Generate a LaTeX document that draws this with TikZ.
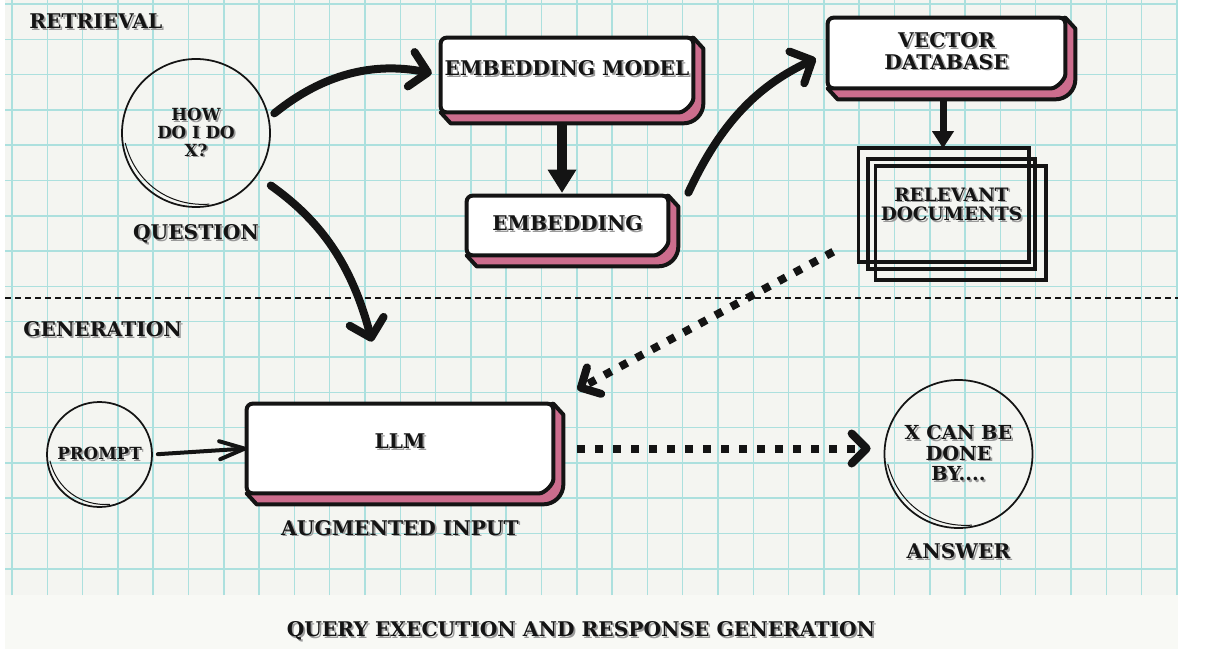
\documentclass[tikz,border=0pt]{standalone}
\usepackage{fontspec}
\setmainfont{DejaVu Serif}
\usetikzlibrary{arrows.meta,positioning}
\definecolor{paper}{HTML}{F4F5F1}
\definecolor{band}{HTML}{F8F9F5}
\definecolor{gridcol}{HTML}{ACE0DE}
\definecolor{ink}{HTML}{141414}
\definecolor{shade}{HTML}{9A9A9A}
\definecolor{rosa}{HTML}{CC6D8D}
\pgfdeclarelayer{paperlayer}
\pgfdeclarelayer{cardlayer}
\pgfsetlayers{paperlayer,cardlayer,main}
\newcommand{\shd}[1]{\leavevmode\rlap{\hspace{0.35mm}\raisebox{-0.35mm}{\color{shade}#1}}#1}
\newcommand{\card}[1]{%
  \begin{pgfonlayer}{cardlayer}
    \filldraw[rosa,draw=ink,line width=0.8mm,line join=round]
      (#1.north east) -- ([shift={(2mm,-2.2mm)}]#1.north east)
      -- ([shift={(2mm,1.8mm)}]#1.south east) arc[start angle=0,end angle=-90,radius=4mm]
      -- ([shift={(2mm,-2.2mm)}]#1.south west) -- (#1.south west) -- cycle;
    \filldraw[white,draw=ink,line width=0.8mm,rounded corners=1.2mm]
      (#1.south west) -- (#1.north west) -- (#1.north east)
      -- ([yshift=4mm]#1.south east) arc[start angle=0,end angle=-90,radius=4mm] -- cycle;
  \end{pgfonlayer}}

\begin{document}
\begin{tikzpicture}[x=0.2mm,y=-0.2mm,node distance=3mm]
  \tikzstyle{lbl}=[font=\fontsize{11.5}{12}\selectfont\bfseries,text=ink,inner sep=0pt]
  \tikzstyle{bubble}=[circle,draw=ink,line width=0.35mm,inner sep=0pt,align=center,text=ink,font=\fontsize{9.5}{10.2}\selectfont\bfseries]
  \tikzstyle{cardbox}=[rectangle,inner sep=0pt,align=center,text=ink,font=\fontsize{11.5}{12}\selectfont\bfseries]
  \tikzstyle{docline}=[ink,line width=0.7mm]
  \tikzstyle{sketch}=[ink,line width=0.2mm]
  \tikzstyle{fat}=[ink,line width=1.6mm,line cap=round,-{Straight Barb[length=3.4mm,width=7mm,round]}]
  \tikzstyle{slim}=[ink,line width=0.8mm,line cap=round,-{Straight Barb[length=5mm,width=3.6mm,round]}]
  \tikzstyle{dotarrow}=[ink,line width=1.6mm,dash pattern=on 1.6mm off 2mm,-{Straight Barb[length=3mm,width=6mm,round]}]
  \tikzstyle{drop}=[ink,line width=2mm,-{Triangle[length=4.6mm,width=5.8mm,line width=0pt]}]
  \tikzstyle{droplite}=[ink,line width=1.4mm,-{Triangle[length=3.4mm,width=4.4mm,line width=0pt]}]
  \useasboundingbox (0,0) rectangle (1209,649);
  \begin{pgfonlayer}{paperlayer}
    \fill[paper] (5,0) rectangle (1178,595);
    \fill[band] (5,595) rectangle (1178,649);
    \draw[gridcol,line width=0.3mm,shift={(12,4)}] (-7,-4) grid[step=7.06mm] (1166,591);
    \draw[ink,line width=0.5mm,dash pattern=on 1.2mm off 0.8mm] (5,298) -- (1178,298);
  \end{pgfonlayer}
  \node[lbl,anchor=west] (ret) at (29,22) {\shd{RETRIEVAL}};
  \node[lbl,anchor=west] (gen) at (23,330) {\shd{GENERATION}};
  \node[lbl] (title) at (581,632) {\shd{QUERY EXECUTION AND RESPONSE GENERATION}};
  \node[bubble,minimum size=29.6mm] (q) at (196,133) {\shd{HOW}\\\shd{DO I DO}\\\shd{X?}};
  \node[lbl,below=3.3mm of q] (qlbl) {\shd{QUESTION}};
  \node[cardbox,minimum width=50.4mm,minimum height=14.8mm,text depth=2.8mm] (em) at (567,75) {\shd{EMBEDDING MODEL}};
  \node[cardbox,minimum width=40.2mm,minimum height=11.8mm,text depth=1mm] (emb) at (567.5,225.5) {\shd{EMBEDDING}};
  \node[cardbox,minimum width=47.4mm,minimum height=14mm,text depth=0.8mm] (vdb) at (946.5,53) {\shd{VECTOR}\\\shd{DATABASE}};
  \node[cardbox,draw=ink,line width=0.7mm,minimum width=33.4mm,minimum height=22mm,text depth=4mm,font=\fontsize{10.5}{11}\selectfont\bfseries] (docs) at (951.5,214) {\shd{RELEVANT}\\\shd{DOCUMENTS}};
  \draw[docline] ([shift={(-8,-9)}]docs.north west) rectangle ([shift={(-8,-9)}]docs.south east);
  \draw[docline] ([shift={(9,9)}]docs.north west) rectangle ([shift={(9,9)}]docs.south east);
  \node[bubble,minimum size=21mm] (pr) at (99.5,454.5) {\shd{PROMPT}};
  \node[cardbox,minimum width=61.2mm,minimum height=17.8mm,text depth=3mm] (llm) at (400,448.5) {\shd{LLM}};
  \node[lbl,below=5.3mm of llm] (aug) {\shd{AUGMENTED INPUT}};
  \node[bubble,minimum size=29.6mm,font=\fontsize{11}{11.6}\selectfont\bfseries] (ans) at (958.5,454) {\shd{X CAN BE}\\\shd{DONE}\\\shd{BY....}};
  \node[lbl,below=2.9mm of ans] (alb) {\shd{ANSWER}};
  \card{em}
  \card{emb}
  \card{vdb}
  \card{llm}
  \draw[sketch] ([shift={(3,-3)}]q.190) to[bend right=40] ([shift={(3,-3)}]q.278);
  \draw[sketch] ([shift={(3,-3)}]pr.190) to[bend right=40] ([shift={(3,-3)}]pr.278);
  \draw[sketch] ([shift={(3,-3)}]ans.190) to[bend right=40] ([shift={(3,-3)}]ans.278);
  \draw[fat,shorten <=1.3mm,shorten >=1.8mm] (q.12) to[bend left=25] (em.west);
  \draw[fat,shorten <=3.3mm] (q.-35) to[bend left=20] ([shift={(-28,-62)}]llm.north);
  \draw[drop,shorten <=2.6mm,shorten >=0.6mm] ([xshift=-1mm]em.south) -- ([xshift=-1mm]em.south |- emb.north);
  \draw[fat,shorten >=2.6mm] ([shift={(20,-3)}]emb.north east) to[bend left=20] (vdb.west);
  \draw[droplite,shorten <=2.4mm,shorten >=1.8mm] ([xshift=-0.7mm]vdb.south) -- ([xshift=-0.7mm]vdb.south |- docs.north);
  \draw[dotarrow] ([shift={(-33,-19)}]docs.south west) -- ([shift={(24,-14)}]llm.north east);
  \draw[slim,shorten <=1mm] (pr.east) -- (llm.west);
  \draw[dotarrow,shorten <=4.8mm,shorten >=2.6mm] (llm.east) -- (llm.east -| ans.west);
\end{tikzpicture}
\end{document}
